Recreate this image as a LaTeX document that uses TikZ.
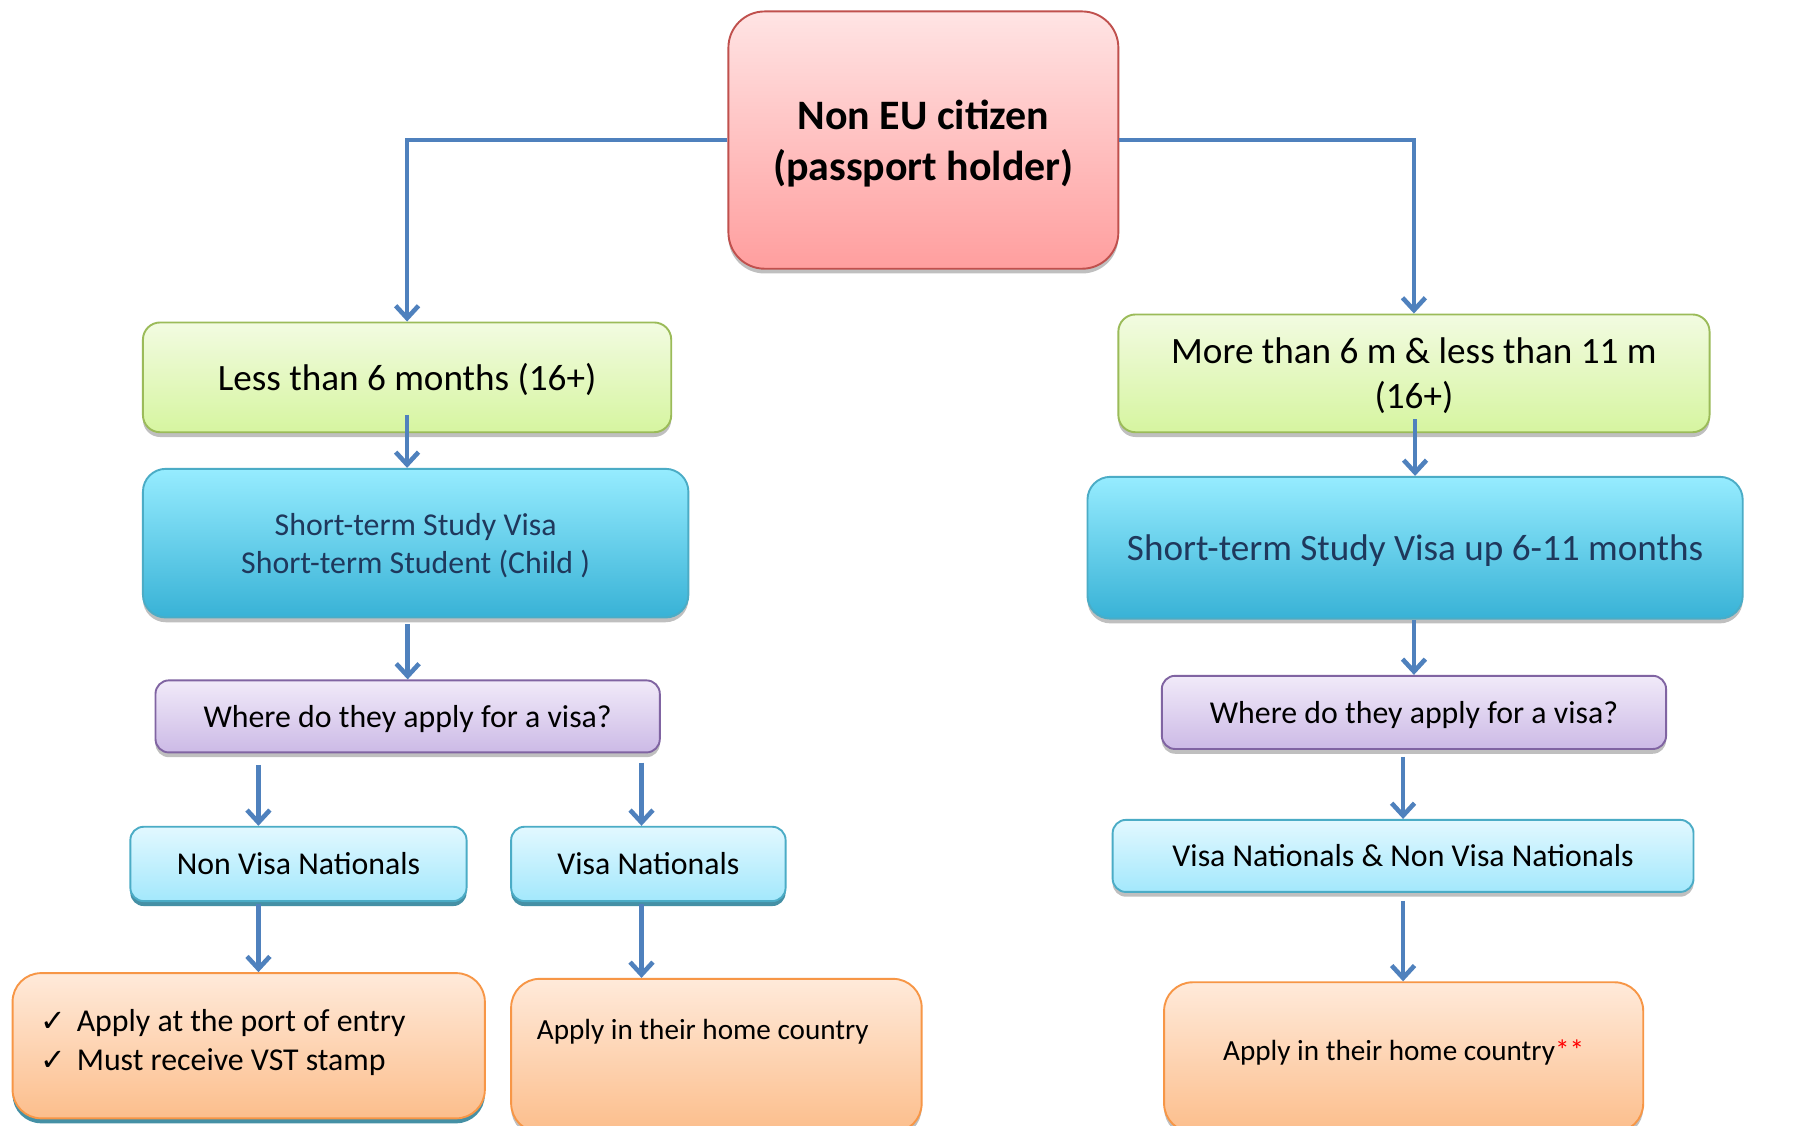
\documentclass[tikz,border=0pt]{standalone}
\usepackage{fontspec}
\setmainfont{Carlito}
\newfontfamily\dejavu{DejaVu Sans}
\usetikzlibrary{arrows.meta,shadows,calc}
\definecolor{arrowblue}{RGB}{79,129,189}
\definecolor{redtop}{RGB}{255,228,228}
\definecolor{redbot}{RGB}{255,158,158}
\definecolor{redline}{RGB}{192,80,77}
\definecolor{greentop}{RGB}{242,251,225}
\definecolor{greenbot}{RGB}{214,245,160}
\definecolor{greenline}{RGB}{155,187,89}
\definecolor{bluetop}{RGB}{150,236,255}
\definecolor{bluebot}{RGB}{56,178,214}
\definecolor{blueline}{RGB}{75,172,198}
\definecolor{purptop}{RGB}{241,234,249}
\definecolor{purpbot}{RGB}{204,186,230}
\definecolor{purpline}{RGB}{128,100,162}
\definecolor{ltbluetop}{RGB}{226,248,255}
\definecolor{ltbluebot}{RGB}{163,232,252}
\definecolor{orangetop}{RGB}{255,234,218}
\definecolor{orangebot}{RGB}{252,190,140}
\definecolor{orangeline}{RGB}{247,150,70}
\definecolor{tealshadow}{RGB}{49,133,156}
\definecolor{navytext}{RGB}{31,56,92}
\begin{document}
\begin{tikzpicture}[x=0.6pt,y=-0.6pt,
  sz/.style 2 args={minimum width=#1*0.6pt, minimum height=#2*0.6pt},
  box/.style={draw, line width=1pt, inner sep=0pt, align=center, text depth=0pt,
    drop shadow={shadow xshift=0pt, shadow yshift=-2.5pt, opacity=0.25, fill=black}},
  tealbox/.style={draw, line width=1pt, inner sep=0pt, align=center, text depth=0pt,
    drop shadow={shadow xshift=0pt, shadow yshift=-2.6pt, opacity=0.9, fill=tealshadow}},
  topbox/.style={box, rounded corners=19pt, draw=redline, top color=redtop, bottom color=redbot,
    font=\fontsize{22}{27}\selectfont\bfseries},
  greenbox/.style={box, rounded corners=9pt, draw=greenline, top color=greentop, bottom color=greenbot,
    font=\fontsize{19.5}{23.4}\selectfont},
  bluebox/.style={box, rounded corners=12pt, draw=blueline, top color=bluetop, bottom color=bluebot,
    text=navytext},
  purpbox/.style={box, rounded corners=7pt, draw=purpline, top color=purptop, bottom color=purpbot,
    font=\fontsize{16.7}{20}\selectfont},
  ltbox/.style={tealbox, rounded corners=7pt, draw=blueline, top color=ltbluetop, bottom color=ltbluebot,
    font=\fontsize{16.7}{20}\selectfont},
  orbox/.style={box, rounded corners=15pt, draw=orangeline, top color=orangetop, bottom color=orangebot},
  ortealbox/.style={tealbox, rounded corners=15pt, draw=orangeline, top color=orangetop, bottom color=orangebot},
  lbl/.style={inner sep=0pt, align=left},
  arr/.style={draw=arrowblue, line width=2.4pt, -{Straight Barb[length=6.5pt,width=12pt]}}
]
\useasboundingbox (0,0) rectangle (1568,984);
\fill[white] (0,0) rectangle (1568,984);

% boxes
\node[topbox, sz={341}{225}] (top) at (807.5,122.5) {Non EU citizen\\(passport holder)};
\node[greenbox, sz={462}{96}] (g1) at (356,330) {Less than 6 months (16+)};
\node[greenbox, sz={517}{103}] (g2) at (1236.5,326.5) {More than 6 m \& less than 11 m\\(16+)};
\node[bluebox, sz={477}{130}, font=\fontsize{16.7}{19.8}\selectfont] (b1) at (363.5,475)
  {Short-term Study Visa\\Short-term Student (Child )};
\node[bluebox, sz={573}{124}, font=\fontsize{19.5}{23}\selectfont] (b2) at (1237.5,479)
  {Short-term Study Visa up 6-11 months};
\node[purpbox, sz={441}{63}] (p1) at (356.5,626.5) {Where do they apply for a visa?};
\node[purpbox, sz={441}{64}] (p2) at (1236.5,623) {Where do they apply for a visa?};
\node[ltbox, sz={294}{65}] (nv) at (261,755.5) {Non Visa Nationals};
\node[ltbox, sz={240}{65}] (vn) at (567,755.5) {Visa Nationals};
\node[box, rounded corners=7pt, draw=blueline, top color=ltbluetop, bottom color=ltbluebot,
  font=\fontsize{16.7}{20}\selectfont, sz={508}{63}] (vnn) at (1227,748.5)
  {Visa Nationals \& Non Visa Nationals};
\node[ortealbox, sz={413}{127},
  label={[lbl, anchor=west, xshift=15pt, yshift=1.5pt, font=\fontsize{16.7}{20.4}\selectfont]west:%
  \makebox[19pt][l]{\dejavu\fontsize{16}{16}\selectfont ✓}Apply at the port of entry\\
  \makebox[19pt][l]{\dejavu\fontsize{16}{16}\selectfont ✓}Must receive VST stamp}] (o1) at (217.5,914.5) {};
\node[orbox, sz={359}{134},
  label={[lbl, anchor=west, xshift=13.8pt, yshift=12.6pt, font=\fontsize{15.3}{18}\selectfont]west:Apply in their home country}]
  (o2) at (626.5,923) {};
\node[orbox, sz={419}{131},
  label={[lbl, anchor=center, yshift=2.7pt, font=\fontsize{15.3}{18}\selectfont]center:Apply in their home country\textcolor{red}{**}}]
  (o3) at (1227.5,924.5) {};

% helper coordinates for off-centre connectors
\coordinate (cl) at (226,0);
\coordinate (cr) at (561,0);

% connectors
\draw[arr] (top.west) -| (g1.north);
\draw[arr] (top.east) -| (g2.north);
\draw[arr] ([yshift=9.6pt]g1.south) -- (b1.north -| g1.south);
\draw[arr] ([yshift=7.2pt]g2.south -| b2.north) -- (b2.north);
\draw[arr] ([yshift=-3pt]b1.south -| p1.north) -- (p1.north);
\draw[arr] ([yshift=-0.3pt]b2.south -| p2.north) -- (p2.north);
\draw[arr] ([yshift=-6pt]p1.south -| cl) -- (nv.north -| cl);
\draw[arr] ([yshift=-4.8pt]p1.south -| cr) -- (vn.north -| cr);
\draw[arr] ([yshift=-3.6pt]p2.south -| vnn.north) -- (vnn.north);
\draw[arr] ([yshift=-1.2pt]nv.south -| cl) -- (o1.north -| cl);
\draw[arr] ([yshift=-1.2pt]vn.south -| cr) -- (o2.north -| cr);
\draw[arr] ([yshift=-4.2pt]vnn.south) -- (o3.north -| vnn.south);
\end{tikzpicture}
\end{document}
